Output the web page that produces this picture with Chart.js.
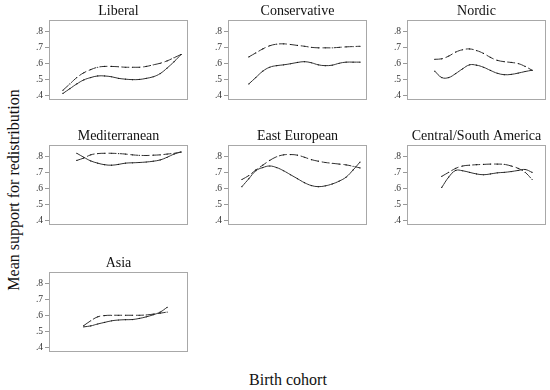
<!DOCTYPE html>
<html>
<head>
<meta charset="utf-8">
<script src="https://cdn.jsdelivr.net/npm/chart.js@4/dist/chart.umd.min.js"></script>
<style>
  body { margin: 0; background: #fff; }
  #fig { position: relative; width: 550px; height: 390px; overflow: hidden; }
  #fig canvas { position: absolute; }
  .axis-title { position: absolute; font-family: 'Liberation Serif', serif; font-size: 16px; color: #111; white-space: nowrap; }
  #ytitle { left: 14px; top: 190px; transform: translate(-50%, -50%) rotate(-90deg); }
  #xtitle { left: 288px; top: 380px; transform: translate(-50%, -50%); }
</style>
</head>
<body>
<div id="fig">
  <div class="axis-title" id="ytitle">Mean support for redistribution</div>
  <div class="axis-title" id="xtitle">Birth cohort</div>
</div>
<script>
// === DATA ===
const cohorts = [1905, 1910, 1915, 1920, 1925, 1930, 1935, 1940, 1945, 1950, 1955, 1960, 1965, 1970, 1975, 1980, 1985, 1990];
const yTicks = [0.4, 0.5, 0.6, 0.7, 0.8];
const regions = ['Liberal', 'Conservative', 'Nordic', 'Mediterranean', 'East European', 'Central/South America', 'Asia'];

const liberalSolid  = [.41, .44, .47, .495, .51, .52, .52, .515, .505, .50, .497, .498, .505, .515, .535, .57, .61, .655];
const liberalDashed = [.43, .47, .51, .54, .56, .575, .58, .58, .578, .575, .575, .575, .58, .59, .60, .615, .635, .655];

const conservativeSolid  = [null, .47, .51, .55, .575, .585, .59, .597, .605, .61, .603, .59, .585, .588, .60, .607, .607, .607];
const conservativeDashed = [null, .64, .665, .69, .71, .72, .722, .718, .712, .707, .70, .697, .697, .697, .70, .703, .705, .707];

const nordicSolid  = [null, null, .55, .51, .51, .535, .565, .59, .588, .575, .555, .537, .528, .53, .538, .548, .556, null];
const nordicDashed = [null, null, .625, .628, .645, .67, .685, .69, .68, .662, .637, .618, .61, .605, .598, .58, .556, null];

const mediterraneanSolid  = [null, null, .82, .795, .772, .758, .748, .745, .75, .758, .76, .762, .765, .77, .778, .795, .815, .828];
const mediterraneanDashed = [null, null, .775, .79, .81, .818, .82, .82, .818, .815, .81, .807, .806, .808, .81, .815, .82, .828];

const eastSolid  = [.61, .66, .71, .73, .74, .73, .71, .685, .66, .635, .617, .61, .615, .627, .645, .67, .715, .765];
const eastDashed = [.655, .68, .715, .745, .775, .798, .81, .812, .808, .795, .78, .77, .762, .757, .752, .747, .738, .728];

const centralSolid  = [null, null, null, .605, .67, .712, .71, .70, .69, .685, .69, .697, .70, .705, .712, .718, .70, null];
const centralDashed = [null, null, null, .675, .70, .725, .74, .745, .748, .75, .752, .752, .75, .74, .725, .70, .655, null];

const asiaSolid  = [null, null, null, .527, .533, .545, .555, .565, .57, .572, .573, .58, .59, .603, .62, .65, null, null];
const asiaDashed = [null, null, null, .535, .565, .59, .598, .60, .60, .60, .60, .60, .602, .607, .613, .62, null, null];

const solidSeries  = [liberalSolid, conservativeSolid, nordicSolid, mediterraneanSolid, eastSolid, centralSolid, asiaSolid];
const dashedSeries = [liberalDashed, conservativeDashed, nordicDashed, mediterraneanDashed, eastDashed, centralDashed, asiaDashed];

// === LAYOUT OF THE PANELS ===
const boxLeft = [49, 228, 407];
const boxTop = [20, 145, 272];
const boxW = 142;
const boxH = 87;
const axisW = 45;
const titleH = 17;

// box round each plot area
const boxPlugin = {
  id: 'box',
  afterDraw(chart) {
    const a = chart.chartArea;
    const c = chart.ctx;
    c.save();
    c.strokeStyle = '#a8a8a8';
    c.lineWidth = 1;
    c.strokeRect(Math.round(a.left) + 0.5, Math.round(a.top) + 0.5, Math.round(a.right - a.left) - 1, Math.round(a.bottom - a.top) - 1);
    c.restore();
  }
};

function toPoints(vals) {
  return cohorts.map((c, i) => ({ x: c, y: vals[i] }));
}

const fig = document.getElementById('fig');

regions.forEach((name, i) => {
  const col = i % 3;
  const row = Math.floor(i / 3);
  const canvas = document.createElement('canvas');
  canvas.width = axisW + boxW + 1;
  canvas.height = titleH + boxH + 1;
  canvas.style.left = (boxLeft[col] - axisW) + 'px';
  canvas.style.top = (boxTop[row] - titleH) + 'px';
  fig.appendChild(canvas);

  const lineStyle = {
    borderColor: '#333',
    borderWidth: 1,
    tension: 0.4,
    pointRadius: 0.6,
    pointBorderWidth: 0,
    pointBackgroundColor: '#111'
  };

  new Chart(canvas, {
    type: 'line',
    data: {
      datasets: [
        Object.assign({ label: 'solid', data: toPoints(solidSeries[i]) }, lineStyle),
        Object.assign({ label: 'dashed', data: toPoints(dashedSeries[i]), borderDash: [8, 3] }, lineStyle)
      ]
    },
    options: {
      responsive: false,
      animation: false,
      devicePixelRatio: 1,
      layout: { padding: { top: 0, right: 1, bottom: 1, left: 0 } },
      plugins: {
        legend: { display: false },
        tooltip: { enabled: false },
        title: {
          display: true,
          text: name,
          fullSize: false,
          color: '#111',
          font: { family: 'Liberation Serif', size: 14, weight: 'normal', lineHeight: '16px' },
          padding: { top: 0, bottom: 1 }
        }
      },
      scales: {
        x: { type: 'linear', min: 1895, max: 1995, display: false },
        y: {
          min: 0.367,
          max: 0.872,
          afterBuildTicks: s => { s.ticks = yTicks.map(v => ({ value: v })); },
          afterFit: s => { s.width = axisW; },
          border: { display: false },
          grid: { drawOnChartArea: false, tickLength: 4, color: '#999' },
          ticks: {
            padding: 2,
            color: '#333',
            font: { family: 'Liberation Serif', size: 9.5 },
            callback: v => v.toFixed(1).replace(/^0/, '')
          }
        }
      }
    },
    plugins: [boxPlugin]
  });
});
</script>
</body>
</html>
